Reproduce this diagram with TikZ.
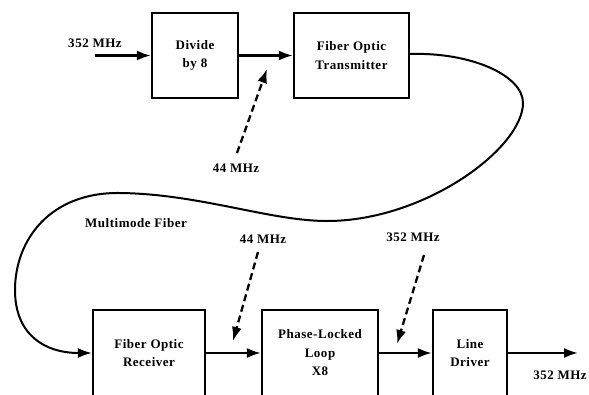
\documentclass[tikz,border=0pt]{standalone}
\usepackage{fontspec}
\setmainfont{Liberation Serif}[LetterSpace=4]
\usetikzlibrary{arrows.meta}
\begin{document}
\begin{tikzpicture}[x=1pt,y=-1pt,
  box/.style={draw,line width=2.2pt,rectangle,inner sep=0pt,align=center,font=\fontsize{13}{18.5}\selectfont\bfseries},
  lbl/.style={inner sep=0pt,font=\fontsize{13}{15}\selectfont\bfseries},
  sig/.style={line width=2.3pt,-{Latex[length=14pt,width=10pt]}},
  dsig/.style={line width=2.3pt,dash pattern=on 7pt off 4pt,-{Latex[length=14pt,width=10pt]}},
  fib/.style={line width=2pt}]
\useasboundingbox (0,0) rectangle (589,394);
\clip (0,0) rectangle (589,394);
% boxes
\node[box,minimum width=86pt,minimum height=85pt] (div) at (195,55.5) {Divide\\by 8};
\node[box,minimum width=115pt,minimum height=85pt] (fot) at (351.5,55.5) {Fiber Optic\\Transmitter};
\node[box,minimum width=112pt,minimum height=86pt] (rx) at (149,353) {Fiber Optic\\Receiver};
\node[box,minimum width=116pt,minimum height=86pt] (pll) at (320,353) {Phase-Locked\\Loop\\X8};
\node[box,minimum width=74pt,minimum height=86pt] (ld) at (470,353) {Line\\Driver};
% free ends
\coordinate (in) at (95,55.5);
\coordinate (out) at (578,353);
\coordinate (d1s) at (237,153);
\coordinate (d1e) at (267,69);
\coordinate (d2s) at (258,252);
\coordinate (d2e) at (233,341);
\coordinate (d3s) at (424,255);
\coordinate (d3e) at (397,344);
% labels
\node[lbl] (l1) at (95,43) {352 MHz};
\node[lbl] (l2) at (236,168) {44 MHz};
\node[lbl] (l3) at (136,223) {Multimode Fiber};
\node[lbl] (l4) at (263,239) {44 MHz};
\node[lbl] (l5) at (413,237) {352 MHz};
\node[lbl] (l6) at (560,375) {352 MHz};
% connectors
\draw[sig] (in) -- (div.west);
\draw[sig] (div.east) -- (fot.west);
\draw[sig] (rx.east) -- (pll.west);
\draw[sig] (pll.east) -- (ld.west);
\draw[sig] (ld.east) -- (out);
\draw[dsig] (d1s) -- (d1e);
\draw[dsig] (d2s) -- (d2e);
\draw[dsig] (d3s) -- (d3e);
% fiber
\draw[fib,-{Latex[length=14pt,width=10pt]}] ([yshift=1.5pt]fot.east) .. controls (470,52) and (523,75) .. (523,103)
  .. controls (523,148) and (425,221) .. (327,221)
  .. controls (270,221) and (200,194) .. (120,193)
  .. controls (50,192) and (15,240) .. (15,290)
  .. controls (15,335) and (45,353) .. (rx.west);
\end{tikzpicture}
\end{document}
